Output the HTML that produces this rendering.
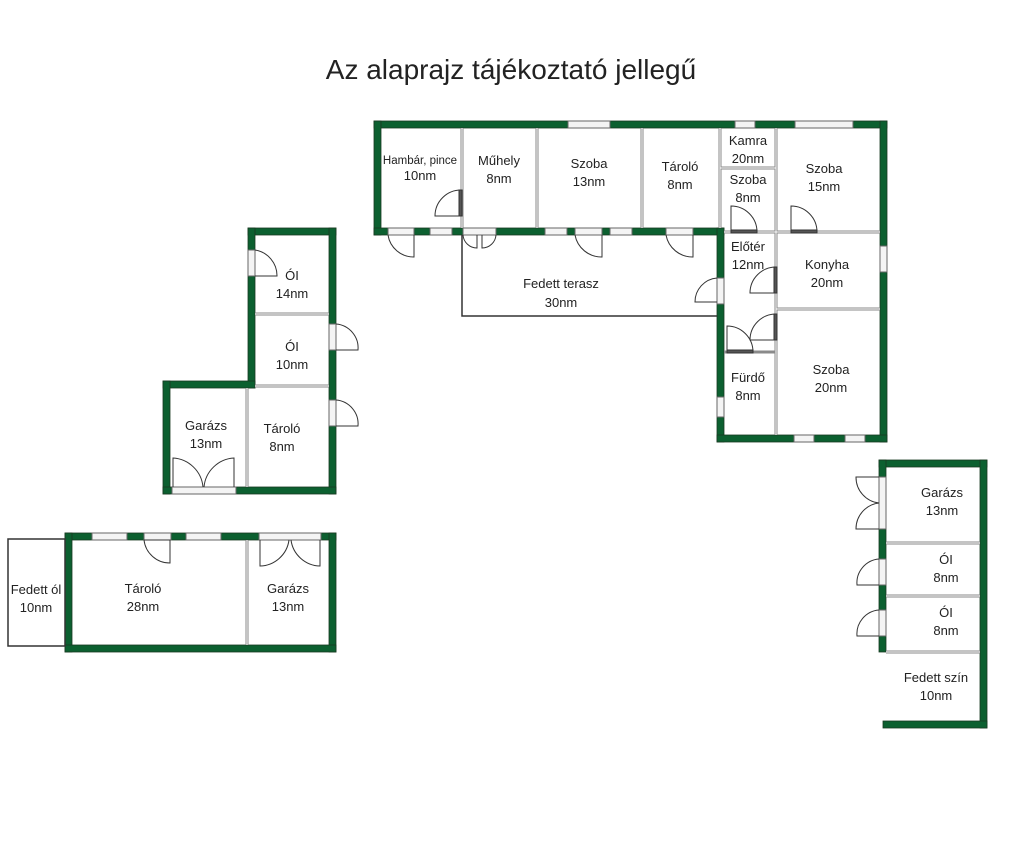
<!DOCTYPE html>
<html><head><meta charset="utf-8"><style>
html,body{margin:0;padding:0;background:#fff;}
svg{display:block;}
text{font-family:"Liberation Sans",sans-serif;fill:#222;}
</style></head><body>
<svg width="1024" height="858" viewBox="0 0 1024 858" xmlns="http://www.w3.org/2000/svg">
<rect width="1024" height="858" fill="#fff"/>
<text x="511" y="79" font-size="28" text-anchor="middle" fill="#111">Az alaprajz tájékoztató jellegű</text>

<g fill="#0c6030" stroke="#1a3a22" stroke-width="0.8">
<rect x="374" y="121" width="513" height="7"/>
<rect x="374" y="121" width="7" height="114"/>
<rect x="374" y="228" width="350" height="7"/>
<rect x="880" y="121" width="7" height="321"/>
<rect x="717" y="228" width="7" height="214"/>
<rect x="717" y="435" width="170" height="7"/>
<rect x="248" y="228" width="88" height="7"/>
<rect x="248" y="228" width="7" height="160"/>
<rect x="329" y="228" width="7" height="266"/>
<rect x="163" y="381" width="92" height="7"/>
<rect x="163" y="381" width="7" height="113"/>
<rect x="163" y="487" width="173" height="7"/>
<rect x="65" y="533" width="271" height="7"/>
<rect x="65" y="533" width="7" height="119"/>
<rect x="329" y="533" width="7" height="119"/>
<rect x="65" y="645" width="271" height="7"/>
<rect x="879" y="460" width="108" height="7"/>
<rect x="980" y="460" width="7" height="268"/>
<rect x="879" y="460" width="7" height="192"/>
<rect x="883" y="721" width="104" height="7"/>
</g>

<g stroke="#8a8a8a" stroke-width="3" fill="none">
<line x1="462" y1="128" x2="462" y2="228"/>
<line x1="537" y1="128" x2="537" y2="228"/>
<line x1="642" y1="128" x2="642" y2="228"/>
<line x1="720" y1="128" x2="720" y2="228"/>
<line x1="776" y1="128" x2="776" y2="435"/>
<line x1="720" y1="168" x2="776" y2="168"/>
<line x1="724" y1="232" x2="880" y2="232"/>
<line x1="776" y1="309" x2="880" y2="309"/>
<line x1="724" y1="352" x2="776" y2="352"/>
<line x1="255" y1="314" x2="329" y2="314"/>
<line x1="255" y1="386" x2="329" y2="386"/>
<line x1="247" y1="388" x2="247" y2="487"/>
<line x1="247" y1="540" x2="247" y2="645"/>
<line x1="886" y1="543" x2="980" y2="543"/>
<line x1="886" y1="596" x2="980" y2="596"/>
<line x1="886" y1="652" x2="980" y2="652"/>
</g>
<g stroke="#fff" stroke-width="1" fill="none">
<line x1="462" y1="128" x2="462" y2="228"/>
<line x1="537" y1="128" x2="537" y2="228"/>
<line x1="642" y1="128" x2="642" y2="228"/>
<line x1="720" y1="128" x2="720" y2="228"/>
<line x1="776" y1="128" x2="776" y2="435"/>
<line x1="720" y1="168" x2="776" y2="168"/>
<line x1="724" y1="232" x2="880" y2="232"/>
<line x1="776" y1="309" x2="880" y2="309"/>
<line x1="255" y1="314" x2="329" y2="314"/>
<line x1="255" y1="386" x2="329" y2="386"/>
<line x1="247" y1="388" x2="247" y2="487"/>
<line x1="247" y1="540" x2="247" y2="645"/>
<line x1="886" y1="543" x2="980" y2="543"/>
<line x1="886" y1="596" x2="980" y2="596"/>
<line x1="886" y1="652" x2="980" y2="652"/>
</g>

<g stroke="#333" stroke-width="1.5" fill="none">
<polyline points="462,235 462,316 717,316"/>
<rect x="8" y="539" width="57" height="107"/>
</g>

<g fill="#f4f4f4" stroke="#666" stroke-width="1">
<rect x="568" y="121" width="42" height="7"/>
<rect x="735" y="121" width="20" height="7"/>
<rect x="795" y="121" width="58" height="7"/>
<rect x="388" y="228" width="26" height="7"/>
<rect x="430" y="228" width="22" height="7"/>
<rect x="463" y="228" width="33" height="7"/>
<rect x="545" y="228" width="22" height="7"/>
<rect x="575" y="228" width="27" height="7"/>
<rect x="610" y="228" width="22" height="7"/>
<rect x="666" y="228" width="27" height="7"/>
<rect x="880" y="246" width="7" height="26"/>
<rect x="717" y="278" width="7" height="26"/>
<rect x="717" y="397" width="7" height="20"/>
<rect x="794" y="435" width="20" height="7"/>
<rect x="845" y="435" width="20" height="7"/>
<rect x="248" y="250" width="7" height="26"/>
<rect x="329" y="324" width="7" height="26"/>
<rect x="329" y="400" width="7" height="26"/>
<rect x="172" y="487" width="64" height="7"/>
<rect x="92" y="533" width="35" height="7"/>
<rect x="144" y="533" width="27" height="7"/>
<rect x="186" y="533" width="35" height="7"/>
<rect x="259" y="533" width="62" height="7"/>
<rect x="879" y="477" width="7" height="52"/>
<rect x="879" y="559" width="7" height="26"/>
<rect x="879" y="610" width="7" height="26"/>
</g>

<g stroke="#333" stroke-width="1" fill="none">
<path d="M461 190 A26 26 0 0 0 435 216 L461 216"/>
<rect x="459" y="190" width="3" height="26" fill="#555"/>
<path d="M388 235 A26 26 0 0 0 414 257 L414 235"/>
<path d="M463 235 A14 14 0 0 0 477 248 L477 235 M496 235 A14 14 0 0 1 482 248 L482 235"/>
<path d="M575 235 A27 27 0 0 0 602 257 L602 235"/>
<path d="M666 235 A27 27 0 0 0 693 257 L693 235"/>
<path d="M717 278 A24 24 0 0 0 695 302 L717 302"/>
<path d="M731 232 L731 206 A26 26 0 0 1 757 232"/>
<rect x="731" y="230" width="26" height="3" fill="#555"/>
<path d="M791 232 L791 206 A26 26 0 0 1 817 232"/>
<rect x="791" y="230" width="26" height="3" fill="#555"/>
<path d="M776 267 A26 26 0 0 0 750 293 L776 293"/>
<rect x="774" y="267" width="3" height="26" fill="#555"/>
<path d="M776 314 A26 26 0 0 0 750 340 L776 340"/>
<rect x="774" y="314" width="3" height="26" fill="#555"/>
<path d="M727 352 L727 326 A26 26 0 0 1 753 352"/>
<rect x="727" y="350" width="26" height="3" fill="#555"/>
<path d="M255 250 A26 26 0 0 1 277 276 L255 276"/>
<path d="M336 324 A24 24 0 0 1 358 350 L336 350"/>
<path d="M336 400 A24 24 0 0 1 358 426 L336 426"/>
<path d="M173 487 L173 458 A32 32 0 0 1 203 487 M234 487 L234 458 A32 32 0 0 0 204 487"/>
<path d="M144 540 L170 540 L170 563 A26 26 0 0 1 144 540"/>
<path d="M260 540 L260 566 A30 30 0 0 0 289 540 M320 540 L320 566 A30 30 0 0 1 291 540"/>
<path d="M879 477 L856 477 A26 26 0 0 0 879 503 M879 529 L856 529 A26 26 0 0 1 879 503"/>
<path d="M879 559 A24 24 0 0 0 857 585 L879 585"/>
<path d="M879 610 A24 24 0 0 0 857 636 L879 636"/>
</g>

<g font-size="13" text-anchor="middle">
<text x="420" y="164" font-size="11.5">Hambár, pince</text><text x="420" y="180">10nm</text>
<text x="499" y="165">Műhely</text><text x="499" y="183">8nm</text>
<text x="589" y="168">Szoba</text><text x="589" y="186">13nm</text>
<text x="680" y="171">Tároló</text><text x="680" y="189">8nm</text>
<text x="748" y="145">Kamra</text><text x="748" y="163">20nm</text>
<text x="748" y="184">Szoba</text><text x="748" y="202">8nm</text>
<text x="824" y="173">Szoba</text><text x="824" y="191">15nm</text>
<text x="748" y="251">Előtér</text><text x="748" y="269">12nm</text>
<text x="827" y="269">Konyha</text><text x="827" y="287">20nm</text>
<text x="561" y="288">Fedett terasz</text><text x="561" y="307">30nm</text>
<text x="748" y="382">Fürdő</text><text x="748" y="400">8nm</text>
<text x="831" y="374">Szoba</text><text x="831" y="392">20nm</text>
<text x="292" y="280">ÓI</text><text x="292" y="298">14nm</text>
<text x="292" y="351">ÓI</text><text x="292" y="369">10nm</text>
<text x="206" y="430">Garázs</text><text x="206" y="448">13nm</text>
<text x="282" y="433">Tároló</text><text x="282" y="451">8nm</text>
<text x="36" y="594">Fedett ól</text><text x="36" y="612">10nm</text>
<text x="143" y="593">Tároló</text><text x="143" y="611">28nm</text>
<text x="288" y="593">Garázs</text><text x="288" y="611">13nm</text>
<text x="942" y="497">Garázs</text><text x="942" y="515">13nm</text>
<text x="946" y="564">ÓI</text><text x="946" y="582">8nm</text>
<text x="946" y="617">ÓI</text><text x="946" y="635">8nm</text>
<text x="936" y="682">Fedett szín</text><text x="936" y="700">10nm</text>
</g>
</svg>
</body></html>
